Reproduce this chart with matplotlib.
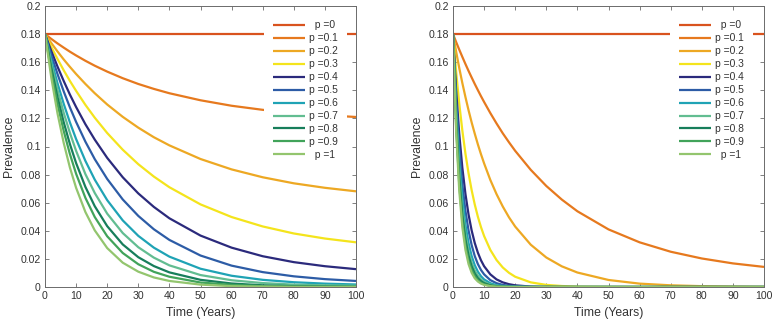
import matplotlib
matplotlib.use("Agg")
import matplotlib.pyplot as plt

plt.rcParams['font.family'] = ['Liberation Sans', 'DejaVu Sans']

# ---------------- data ----------------
p_labels = ['  p =0', 'p =0.1', 'p =0.2', 'p =0.3', 'p =0.4', 'p =0.5',
            'p =0.6', 'p =0.7', 'p =0.8', 'p =0.9', '  p =1']
colors = ['#D9531E', '#E6791E', '#EDA823', '#F4E41C', '#2B2A7C', '#2D5CA6',
          '#1FA3B5', '#62BD91', '#177E5B', '#41A35A', '#93C56E']

# left panel
t_left = [0, 2, 4, 6, 8, 10, 13, 16, 20, 25, 30, 35, 40, 50, 60, 70, 80, 90, 100]
left_p00 = [0.18] * 19
left_p01 = [0.18, 0.1766, 0.1734, 0.1704, 0.1675, 0.1648, 0.1610, 0.1575, 0.1533, 0.1486,
            0.1445, 0.1410, 0.1379, 0.1329, 0.1290, 0.1261, 0.1239, 0.1223, 0.1210]
left_p02 = [0.18, 0.1737, 0.1677, 0.1620, 0.1567, 0.1516, 0.1445, 0.1379, 0.1299, 0.1211,
            0.1134, 0.1066, 0.1008, 0.0911, 0.0837, 0.0781, 0.0738, 0.0706, 0.0681]
left_p03 = [0.18, 0.1709, 0.1624, 0.1543, 0.1467, 0.1396, 0.1296, 0.1205, 0.1096, 0.0977,
            0.0874, 0.0786, 0.0710, 0.0588, 0.0498, 0.0431, 0.0381, 0.0345, 0.0318]
left_p04 = [0.18, 0.1681, 0.1570, 0.1467, 0.1370, 0.1281, 0.1158, 0.1049, 0.0919, 0.0781,
            0.0666, 0.0570, 0.0489, 0.0366, 0.0280, 0.0219, 0.0177, 0.0148, 0.0127]
left_p05 = [0.18, 0.1652, 0.1517, 0.1393, 0.1279, 0.1175, 0.1034, 0.0910, 0.0769, 0.0623,
            0.0506, 0.0411, 0.0335, 0.0224, 0.0152, 0.0106, 0.0076, 0.0056, 0.0043]
left_p06 = [0.18, 0.1617, 0.1452, 0.1305, 0.1172, 0.1053, 0.0897, 0.0764, 0.0618, 0.0474,
            0.0364, 0.0280, 0.0216, 0.0130, 0.0080, 0.0051, 0.0034, 0.0024, 0.0018]
left_p07 = [0.18, 0.1590, 0.1405, 0.1241, 0.1097, 0.0969, 0.0803, 0.0669, 0.0522, 0.0384,
            0.0283, 0.0209, 0.0154, 0.0085, 0.0048, 0.0028, 0.0017, 0.0012, 0.0009]
left_p08 = [0.18, 0.1561, 0.1353, 0.1174, 0.1018, 0.0882, 0.0712, 0.0575, 0.0433, 0.0303,
            0.0212, 0.0149, 0.0104, 0.0051, 0.0025, 0.0012, 0.0006, 0.0003, 0.0001]
left_p09 = [0.18, 0.1533, 0.1306, 0.1112, 0.0947, 0.0806, 0.0634, 0.0498, 0.0361, 0.0242,
            0.0162, 0.0108, 0.0073, 0.0032, 0.0015, 0.0006, 0.0003, 0.0001, 0.0001]
left_p10 = [0.18, 0.1493, 0.1238, 0.1027, 0.0851, 0.0706, 0.0533, 0.0403, 0.0277, 0.0173,
            0.0109, 0.0068, 0.0043, 0.0017, 0.0006, 0.0003, 0.0001, 0.0, 0.0]

# right panel
t_right = [0, 1, 2, 3, 4, 5, 6, 7, 8, 9, 10, 12, 14, 16, 18, 20, 25, 30, 35, 40,
           50, 60, 70, 80, 90, 100]
right_p00 = [0.18] * 26
right_p01 = [0.18, 0.1744, 0.1690, 0.1638, 0.1587, 0.1538, 0.1491, 0.1445, 0.1401, 0.1358,
             0.1317, 0.1238, 0.1164, 0.1094, 0.1030, 0.0969, 0.0834, 0.0719, 0.0622, 0.0539,
             0.0410, 0.0318, 0.0251, 0.0203, 0.0168, 0.0143]
right_p02 = [0.18, 0.1676, 0.1560, 0.1452, 0.1352, 0.1258, 0.1171, 0.1091, 0.1015, 0.0945,
             0.0880, 0.0762, 0.0661, 0.0573, 0.0496, 0.0430, 0.0301, 0.0210, 0.0147, 0.0103,
             0.0050, 0.0024, 0.0012, 0.0006, 0.0003, 0.0001]
right_p03 = [0.18, 0.1534, 0.1307, 0.1114, 0.0949, 0.0809, 0.0689, 0.0587, 0.0500, 0.0426,
             0.0363, 0.0264, 0.0192, 0.0139, 0.0101, 0.0073, 0.0033, 0.0015, 0.0007, 0.0003,
             0.0001, 0.0, 0.0, 0.0, 0.0, 0.0]
right_p04 = [0.18, 0.1402, 0.1092, 0.0850, 0.0662, 0.0516, 0.0402, 0.0313, 0.0244, 0.0190,
             0.0148, 0.0090, 0.0054, 0.0033, 0.0020, 0.0012, 0.0003, 0.0001, 0.0, 0.0,
             0.0, 0.0, 0.0, 0.0, 0.0, 0.0]
right_p05 = [0.18, 0.1333, 0.0988, 0.0732, 0.0542, 0.0402, 0.0298, 0.0220, 0.0163, 0.0121,
             0.0090, 0.0049, 0.0027, 0.0015, 0.0008, 0.0004, 0.0001, 0.0, 0.0, 0.0,
             0.0, 0.0, 0.0, 0.0, 0.0, 0.0]
right_p06 = [0.18, 0.1268, 0.0894, 0.0630, 0.0444, 0.0313, 0.0220, 0.0155, 0.0109, 0.0077,
             0.0054, 0.0027, 0.0013, 0.0007, 0.0003, 0.0002, 0.0, 0.0, 0.0, 0.0,
             0.0, 0.0, 0.0, 0.0, 0.0, 0.0]
right_p07 = [0.18, 0.1219, 0.0825, 0.0559, 0.0378, 0.0256, 0.0173, 0.0117, 0.0080, 0.0054,
             0.0036, 0.0017, 0.0008, 0.0003, 0.0002, 0.0001, 0.0, 0.0, 0.0, 0.0,
             0.0, 0.0, 0.0, 0.0, 0.0, 0.0]
right_p08 = [0.18, 0.1183, 0.0777, 0.0511, 0.0336, 0.0221, 0.0145, 0.0095, 0.0062, 0.0041,
             0.0027, 0.0012, 0.0005, 0.0002, 0.0001, 0.0, 0.0, 0.0, 0.0, 0.0,
             0.0, 0.0, 0.0, 0.0, 0.0, 0.0]
right_p09 = [0.18, 0.1148, 0.0732, 0.0467, 0.0298, 0.0190, 0.0121, 0.0077, 0.0049, 0.0031,
             0.0020, 0.0008, 0.0003, 0.0001, 0.0001, 0.0, 0.0, 0.0, 0.0, 0.0,
             0.0, 0.0, 0.0, 0.0, 0.0, 0.0]
right_p10 = [0.18, 0.1114, 0.0689, 0.0426, 0.0264, 0.0163, 0.0101, 0.0062, 0.0039, 0.0024,
             0.0015, 0.0006, 0.0002, 0.0001, 0.0, 0.0, 0.0, 0.0, 0.0, 0.0,
             0.0, 0.0, 0.0, 0.0, 0.0, 0.0]

left_series = [left_p00, left_p01, left_p02, left_p03, left_p04, left_p05,
               left_p06, left_p07, left_p08, left_p09, left_p10]
right_series = [right_p00, right_p01, right_p02, right_p03, right_p04, right_p05,
                right_p06, right_p07, right_p08, right_p09, right_p10]

x_ticks = [0, 10, 20, 30, 40, 50, 60, 70, 80, 90, 100]
x_ticklabels = ['0', '10', '20', '30', '40', '50', '60', '70', '80', '90', '100']
y_ticks = [0, 0.02, 0.04, 0.06, 0.08, 0.1, 0.12, 0.14, 0.16, 0.18, 0.2]
y_ticklabels = ['0', '0.02', '0.04', '0.06', '0.08', '0.1', '0.12', '0.14', '0.16', '0.18', '0.2']

# ---------------- figure ----------------
W, H = 773, 322
fig = plt.figure(figsize=(W / 100, H / 100), dpi=100)
ax_l = fig.add_axes([45 / W, 1 - 287 / H, 311 / W, 281 / H])
ax_r = fig.add_axes([453 / W, 1 - 287 / H, 311 / W, 281 / H])

spine_col = '#6b6b6b'
tick_fs = 7.6
label_fs = 8.8

for ax, t, series, inset in ((ax_l, t_left, left_series, 9),
                             (ax_r, t_right, right_series, 11)):
    for y, c, lab in zip(series, colors, p_labels):
        ax.plot(t, y, color=c, lw=1.6, label=lab, solid_capstyle='butt')
    ax.set_xlim(0, 100)
    ax.set_ylim(0, 0.2)
    ax.set_xticks(x_ticks)
    ax.set_xticklabels(x_ticklabels)
    ax.set_yticks(y_ticks)
    ax.set_yticklabels(y_ticklabels)
    ax.tick_params(direction='in', length=3, width=0.6, colors=spine_col,
                   labelcolor='#333333', labelsize=tick_fs, top=True, right=True, pad=3)
    for s in ax.spines.values():
        s.set_color(spine_col)
        s.set_linewidth(0.7)
    ax.set_xlabel('Time (Years)', fontsize=label_fs, color='#333333', labelpad=4)
    ax.set_ylabel('Prevalence', fontsize=label_fs, color='#333333', labelpad=4)
    leg = ax.legend(loc='upper right', bbox_to_anchor=(1 - inset / 311, 1 - 5 / 281),
                    fontsize=7.4, frameon=True, fancybox=False,
                    edgecolor='none', facecolor='white', framealpha=1.0,
                    handlelength=3.1, handletextpad=0.4, labelspacing=0.29,
                    borderpad=0.9, borderaxespad=0.0)
    for txt in leg.get_texts():
        txt.set_color('#333333')

fig.savefig('out.png', dpi=100)
